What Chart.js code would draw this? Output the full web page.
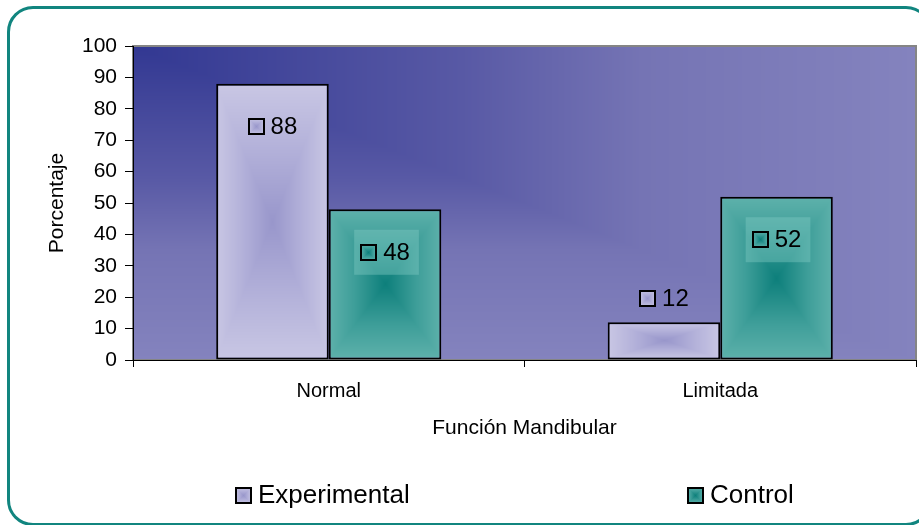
<!DOCTYPE html>
<html>
<head>
<meta charset="utf-8">
<title>Función Mandibular</title>
<script src="https://cdn.jsdelivr.net/npm/chart.js@4.4.1/dist/chart.umd.min.js"></script>
<style>
  html, body { margin: 0; padding: 0; background: #ffffff; overflow: hidden; }
  #wrap { position: relative; width: 919px; height: 525px; overflow: hidden; }
  #chart { position: absolute; left: 0; top: 0; }
  #frame {
    position: absolute; left: 7px; top: 6px; width: 925px; height: 520px;
    border: 3px solid #11857F; border-radius: 26px; box-sizing: border-box;
    pointer-events: none;
  }
</style>
</head>
<body>
<div id="wrap">
  <canvas id="chart" width="919" height="525"></canvas>
  <div id="frame"></div>
</div>
<script>
// ---- data ----
const categories = ['Normal', 'Limitada'];
const seriesNames = ['Experimental', 'Control'];
const experimentalValues = [88, 12];
const controlValues = [48, 52];
const yTickValues = [0, 10, 20, 30, 40, 50, 60, 70, 80, 90, 100];
const yAxisTitle = 'Porcentaje';
const xAxisTitle = 'Función Mandibular';

// ---- styling ----
const FONT = "'Liberation Sans', Arial, Helvetica, sans-serif";
// rectangular "from centre" fills: stops run from the centre (0) to the edge (1)
const seriesFills = [
  [[0, [152, 150, 203]], [0.55, [180, 178, 218]], [1, [201, 199, 228]]],
  [[0, [13, 127, 123]], [0.55, [62, 158, 153]], [1, [94, 177, 171]]]
];
const labelBoxColors = [null, 'rgba(128, 202, 196, 0.42)'];
// plot background: from the top-left corner (0) to the far edges (1)
const plotFill = [[0, [50, 56, 146]], [0.42, [88, 89, 165]], [0.65, [117, 116, 180]], [1, [132, 131, 190]]];

function colorAt(stops, t) {
  t = Math.max(0, Math.min(1, t));
  for (let i = 1; i < stops.length; i++) {
    if (t <= stops[i][0]) {
      const [t0, c0] = stops[i - 1], [t1, c1] = stops[i];
      const f = (t - t0) / (t1 - t0 || 1);
      return [0, 1, 2].map(k => c0[k] + (c1[k] - c0[k]) * f);
    }
  }
  return stops[stops.length - 1][1];
}

function gradientCanvas(w, h, tFn, stops) {
  w = Math.max(1, Math.round(w)); h = Math.max(1, Math.round(h));
  const c = document.createElement('canvas');
  c.width = w; c.height = h;
  const g = c.getContext('2d');
  const img = g.createImageData(w, h);
  for (let py = 0; py < h; py++) {
    for (let px = 0; px < w; px++) {
      const col = colorAt(stops, tFn(px + 0.5, py + 0.5, w, h));
      const o = (py * w + px) * 4;
      img.data[o] = col[0]; img.data[o + 1] = col[1]; img.data[o + 2] = col[2]; img.data[o + 3] = 255;
    }
  }
  g.putImageData(img, 0, 0);
  return c;
}

const fromCentre = (x, y, w, h) => Math.max(Math.abs(x - w / 2) / (w / 2), Math.abs(y - h / 2) / (h / 2));
const fromTopLeft = (x, y, w, h) => Math.max(x / w, y / h);

function drawSwatch(ctx, x, y, w, h, seriesIndex) {
  ctx.drawImage(gradientCanvas(w, h, fromCentre, seriesFills[seriesIndex]), x, y);
  ctx.lineWidth = 2;
  ctx.strokeStyle = '#000000';
  ctx.strokeRect(x + 1, y + 1, w - 2, h - 2);
}

// plot-area background and frame
const plotBackground = {
  id: 'plotBackground',
  beforeDraw(chart) {
    const { ctx, chartArea: a } = chart;
    ctx.save();
    ctx.drawImage(gradientCanvas(a.right - a.left, a.bottom - a.top, fromTopLeft, plotFill), a.left, a.top);
    ctx.strokeStyle = '#858585';
    ctx.lineWidth = 2;
    ctx.strokeRect(a.left, a.top, a.right - a.left, a.bottom - a.top);
    ctx.restore();
  }
};

// per-bar rectangular gradient fills, anchored to each bar
const barGradients = {
  id: 'barGradients',
  beforeDatasetsDraw(chart) {
    chart.data.datasets.forEach((ds, di) => {
      const meta = chart.getDatasetMeta(di);
      meta.data.forEach(el => {
        const { x, y, base, width } = el.getProps(['x', 'y', 'base', 'width'], true);
        const left = x - width / 2, top = Math.min(y, base), h = Math.abs(base - y);
        const pat = chart.ctx.createPattern(gradientCanvas(width, h, fromCentre, seriesFills[di]), 'no-repeat');
        pat.setTransform(new DOMMatrix([1, 0, 0, 1, Math.round(left), Math.round(top)]));
        el.options = Object.assign({}, el.options, { backgroundColor: pat });
      });
    });
  }
};

// value labels: legend key + value, placed just inside tall bars or above short ones
const valueLabels = {
  id: 'valueLabels',
  afterDatasetsDraw(chart) {
    const { ctx } = chart;
    ctx.save();
    ctx.font = '24px ' + FONT;
    ctx.textBaseline = 'middle';
    ctx.textAlign = 'left';
    chart.data.datasets.forEach((ds, di) => {
      const meta = chart.getDatasetMeta(di);
      meta.data.forEach((el, i) => {
        const value = ds.data[i];
        const { x, y, base } = el.getProps(['x', 'y', 'base'], true);
        const text = String(value);
        const tw = ctx.measureText(text).width;
        const key = 17, gap = 6;
        const total = key + gap + tw;
        const cy = (base - y) > 60 ? y + 43 : y - 24;
        const x0 = x - total / 2;
        if (labelBoxColors[di]) {
          ctx.fillStyle = labelBoxColors[di];
          ctx.fillRect(x0 - 6, cy - 22.5, total + 15, 45);
        }
        drawSwatch(ctx, Math.round(x0), Math.round(cy - key / 2), key, key, di);
        ctx.fillStyle = '#000000';
        ctx.fillText(text, x0 + key + gap, cy + 1);
      });
    });
    ctx.restore();
  }
};

// legend along the bottom of the chart
const legendPositions = [235, 687];
const bottomLegend = {
  id: 'bottomLegend',
  afterDraw(chart) {
    const { ctx } = chart;
    ctx.save();
    ctx.font = '26px ' + FONT;
    ctx.textBaseline = 'middle';
    ctx.textAlign = 'left';
    seriesNames.forEach((name, i) => {
      const bx = legendPositions[i], cy = 495;
      drawSwatch(ctx, bx, cy - 8, 17, 17, i);
      ctx.fillStyle = '#000000';
      ctx.fillText(name, bx + 23, cy + 1);
    });
    ctx.restore();
  }
};

new Chart(document.getElementById('chart'), {
  type: 'bar',
  data: {
    labels: categories,
    datasets: [
      { label: seriesNames[0], data: experimentalValues, backgroundColor: () => '#C5C3E0' },
      { label: seriesNames[1], data: controlValues, backgroundColor: () => '#3C9C97' }
    ]
  },
  options: {
    responsive: false,
    animation: false,
    events: [],
    devicePixelRatio: 1,
    layout: { padding: { left: 0, top: 46, right: 3, bottom: 65 } },
    datasets: {
      bar: {
        barPercentage: 1,
        categoryPercentage: 0.575,
        borderColor: '#000000',
        borderWidth: 2,
        borderSkipped: false
      }
    },
    plugins: {
      legend: { display: false },
      tooltip: { enabled: false },
      title: { display: false }
    },
    scales: {
      x: {
        type: 'category',
        offset: true,
        grid: { display: true, offset: true, drawOnChartArea: false, drawTicks: true, tickLength: 7, color: '#000000' },
        border: { display: true, color: '#000000', width: 1 },
        ticks: { color: '#000000', font: { family: FONT, size: 20 }, padding: 12, maxRotation: 0 },
        title: { display: true, text: xAxisTitle, color: '#000000', font: { family: FONT, size: 21 }, padding: { top: 0, bottom: 19.4 } },
        afterFit(scale) { scale.height = 100; }
      },
      y: {
        min: 0,
        max: 100,
        grid: { display: true, drawOnChartArea: false, drawTicks: true, tickLength: 8, color: '#000000' },
        border: { display: true, color: '#000000', width: 1 },
        ticks: { color: '#000000', font: { family: FONT, size: 21 }, padding: 8 },
        afterBuildTicks(scale) { scale.ticks = yTickValues.map(v => ({ value: v })); },
        title: { display: true, text: yAxisTitle, color: '#000000', font: { family: FONT, size: 21 }, padding: { top: 44.4, bottom: 0 } },
        afterFit(scale) { scale.width = 133; }
      }
    }
  },
  plugins: [plotBackground, barGradients, valueLabels, bottomLegend]
});
</script>
</body>
</html>
